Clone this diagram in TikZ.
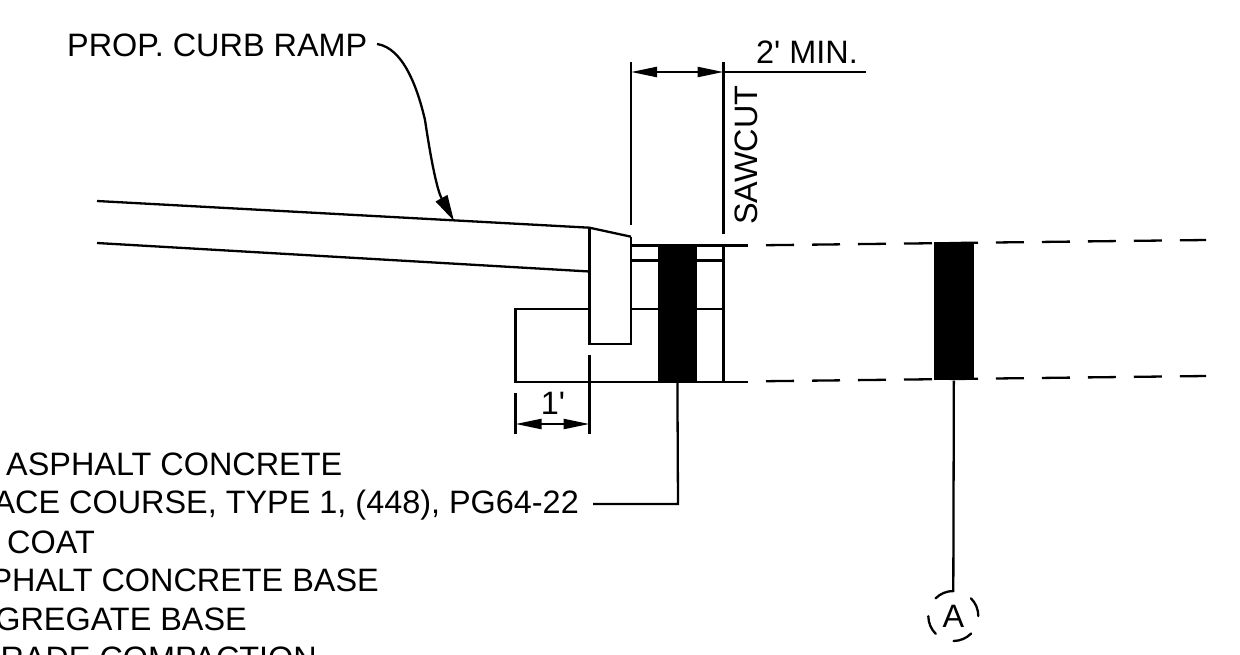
\documentclass[tikz,border=0pt]{standalone}
\usepackage{fontspec}
\newfontfamily\dwgfont{Liberation Sans}
\usetikzlibrary{arrows.meta}
\tikzset{
  ln/.style={line width=2.3pt,black},
  lbl/.style={inner sep=0pt,font=\dwgfont\fontsize{32.4}{32.4}\selectfont,text=black},
  bl/.style={lbl,anchor=base west},
  br/.style={lbl,anchor=base east},
  dimtip/.style={{Triangle[length=26pt,width=10pt]}-{Triangle[length=26pt,width=10pt]}},
  gapdash/.style={ln,dash pattern=on 28pt off 18pt},
}
\begin{document}
\begin{tikzpicture}[x=1pt,y=-1pt]
\useasboundingbox (0,0) rectangle (1240,654);
\clip (0,0) rectangle (1240,654);
% labels
\node[bl] (ramp) at (67,56) {PROP. CURB RAMP};
\node[bl] (min) at (756,63) {2' MIN.};
\node[lbl,rotate=90,anchor=base west] (saw) at (757,225) {SAWCUT};
\node[lbl] (one) at (553,403) {1'};
\node[bl] (t1) at (6,475) {ASPHALT CONCRETE};
\node[br] (t2) at (579,513.5) {ACE COURSE, TYPE 1, (448), PG64-22};
\node[bl] (t3) at (7,553) {COAT};
\node[br] (t4) at (379,591) {PHALT CONCRETE BASE};
\node[br] (t5) at (247,630) {GREGATE BASE};
\node[br] (t6) at (317,669) {RADE COMPACTION};
% ramp slab
\coordinate (r1) at (97,201);
\coordinate (r2) at (589.5,227.7);
\coordinate (r3) at (97,243);
\coordinate (r4) at (589.5,271.5);
\coordinate (r5) at (631,236.7);
\draw[ln] (r1) -- (r2) -- (r5);
\draw[ln] (r3) -- (r4);
% curb
\coordinate (c1) at (589.5,344);
\coordinate (c2) at (631,344);
\draw[ln] (r2) -- (c1) -- (c2) -- (r5);
% pavement layers
\coordinate (p1) at (631,245.5);
\coordinate (p2) at (748,245.5);
\coordinate (p3) at (631,260.5);
\coordinate (p4) at (723.5,260.5);
\coordinate (p5) at (515.5,308.7);
\coordinate (p6) at (589.5,308.7);
\coordinate (p7) at (631,308.7);
\coordinate (p8) at (723.5,308.7);
\coordinate (p9) at (515.5,382.3);
\coordinate (p10) at (748,382.3);
\draw[ln] (p1) -- (p2);
\draw[ln] (p3) -- (p4);
\draw[ln] (p6) -- (p5) -- (p9) -- (p10);
\draw[ln] (p7) -- (p8);
\coordinate (v1) at (723.5,245.5);
\coordinate (v2) at (723.5,382.3);
\draw[ln] (v1) -- (v2);
% black sawcut bars
\node[fill=black,draw=none,inner sep=0pt,minimum width=39pt,minimum height=137.5pt,anchor=north west] (bar1) at (657.7,245) {};
% dashed continuation
\coordinate (d1a) at (766,245.2);
\coordinate (d1b) at (1206,240);
\coordinate (d2a) at (766,381.2);
\coordinate (d2b) at (1206,376);
\draw[gapdash] (d1a) -- (d1b);
\draw[gapdash] (d2a) -- (d2b);
\node[fill=black,draw=none,inner sep=0pt,minimum width=39.3pt,minimum height=138pt,anchor=north west] (bar2) at (934,242.2) {};
% 2' dimension
\coordinate (e1) at (631,62);
\coordinate (e2) at (631,225);
\coordinate (e3) at (723.5,62);
\coordinate (e4) at (723.5,234);
\coordinate (dL) at (631,72);
\coordinate (dR) at (723.5,72);
\coordinate (dE) at (866,72);
\draw[ln] (e1) -- (e2);
\draw[ln] (e3) -- (e4);
\draw[ln,dimtip] (dL) -- (dR);
\draw[ln] (dR) -- (dE);
% 1' dimension
\coordinate (f1) at (515.5,393);
\coordinate (f2) at (515.5,434);
\coordinate (f3) at (589.5,355);
\coordinate (f4) at (589.5,434);
\coordinate (gL) at (515.5,424);
\coordinate (gR) at (589.5,424);
\draw[ln] (f1) -- (f2);
\draw[ln] (f3) -- (f4);
\draw[ln,dimtip] (gL) -- (gR);
% leaders
\coordinate (l1) at (593,504);
\coordinate (l2) at (678,504);
\draw[ln] (l1) -- (l2) -- (bar1.south);
\coordinate (cs) at (377,44);
\coordinate (ce) at (454,221);
\draw[ln,-{Triangle[length=26pt,width=13pt]}] (cs)
  .. controls (404,48) and (418,90) .. (425,120)
  .. controls (431,160) and (437,190) .. (ce);
% section marker
\node[lbl,circle,draw,line width=2.3pt,line cap=round,dash pattern=on 19.6pt off 19.7pt,minimum size=50pt,inner sep=0pt] (A) at (953.3,616) {A};
\draw[ln] (bar2.south) -- (953.3,592);
\end{tikzpicture}
\end{document}
